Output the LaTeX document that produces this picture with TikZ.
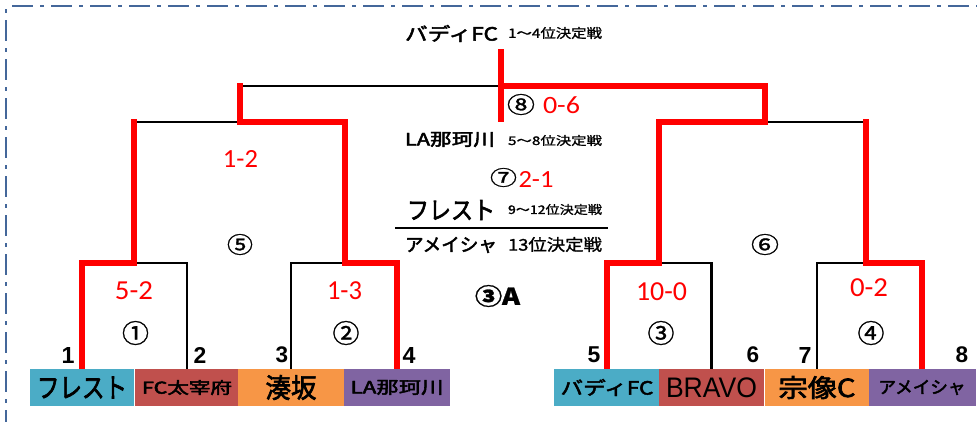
\documentclass[tikz,border=0pt]{standalone}
\usepackage{fontspec}
\usepackage{graphicx}
\newfontfamily\jp{Noto Sans CJK JP}[FakeBold=1.2]
\newfontfamily\jph{Noto Sans CJK JP}[FakeBold=2.5]
\newfontfamily\scorefont{Carlito}
\newfontfamily\arialf{Liberation Sans}
\definecolor{cblue}{HTML}{4BACC6}
\definecolor{cred}{HTML}{C0504D}
\definecolor{corange}{HTML}{F79646}
\definecolor{cpurple}{HTML}{8064A2}
\definecolor{bord}{HTML}{44679A}
\definecolor{win}{HTML}{FF0000}
\newcommand\fb[3]{\resizebox*{#1pt}{#2pt}{#3}}
\newcommand\fh[2]{\resizebox*{!}{#1pt}{#2}}
\newcommand\jb{\jp}
\tikzset{
  lbl/.style={inner sep=0pt, outer sep=0pt, anchor=south},
  team/.style={inner sep=0pt, outer sep=0pt, minimum height=37pt, draw=none},
  lose/.style={line width=2.8pt, black, line join=miter},
  wins/.style={line width=5.6pt, win, line join=miter, line cap=rect},
  frame/.style={line width=2pt, bord, dash pattern=on 21pt off 7pt on 4pt off 7pt},
  score/.style={lbl, text=win},
}
\begin{document}
\begin{tikzpicture}[x=1pt,y=-1pt]
\useasboundingbox (0,0) rectangle (977,421);
% frame
\coordinate (fc) at (6,6);
\coordinate (fr) at (990,6);
\coordinate (fb) at (6,430);
\draw[frame, dash phase=33pt] (fc) -- (fr);
\draw[frame, dash phase=25pt] (fc) -- (fb);

% bracket joints
\coordinate (m1) at (134,263);
\coordinate (m2) at (345,263);
\coordinate (m3) at (659,263);
\coordinate (m4) at (866,263);
\coordinate (m5) at (240,122);
\coordinate (m6) at (765,122);
\coordinate (m8) at (501,86);
\coordinate (champ) at (501,49);
\coordinate (bot8) at (501,122);

% team boxes (positions only here, drawn later on top)
\path
  node[team, minimum width=104pt] (t1) at (82,387.5) {}
  node[team, minimum width=105pt] (t2) at (187,387.5) {}
  node[team, minimum width=106pt] (t3) at (291,387.5) {}
  node[team, minimum width=106pt] (t4) at (397,387.5) {}
  node[team, minimum width=106pt] (t5) at (607,387.5) {}
  node[team, minimum width=105pt] (t6) at (711.5,387.5) {}
  node[team, minimum width=104pt] (t7) at (817,387.5) {}
  node[team, minimum width=107pt] (t8) at (922,387.5) {};

% losing lines
\draw[lose] (t2.north) |- (m1);
\draw[lose] (t3.north) |- (m2);
\draw[lose] (t6.north) |- (m3);
\draw[lose] (t7.north) |- (m4);
\draw[lose] (m1 |- m5) -- (m5);
\draw[lose] (m4 |- m6) -- (m6);
\draw[lose] (m5 |- m8) -- (m8);

% winning lines
\draw[wins] (t1.north) |- (m1) -- (m1 |- m5);
\draw[wins] (t4.north) |- (m2) -- (m2 |- m5) -- (m5) -- (m5 |- m8);
\draw[wins] (t5.north) |- (m3) -- (m3 |- m6) -- (m6) -- (m6 |- m8) -- (m8);
\draw[wins] (t8.north) |- (m4) -- (m4 |- m6);
\draw[wins, line cap=butt] (champ) -- (bot8);

% team boxes with names
\node[team, fill=cblue,   minimum width=104pt] at (t1) {\fb{90}{22}{\jph フレスト}};
\node[team, fill=cred,    minimum width=105pt] at (t2) {\fb{90}{15}{\jph FC太宰府}};
\node[team, fill=corange, minimum width=106pt] at (t3) {\fb{51}{25}{\jph 湊坂}};
\node[team, fill=cpurple, minimum width=106pt] at (t4) {\fb{93}{15}{\jph LA那珂川}};
\node[team, fill=cblue,   minimum width=106pt] at (t5) {\fb{93}{17}{\jph バディFC}};
\node[team, fill=cred,    minimum width=105pt] at (t6) {\fb{91}{20}{\arialf BRAVO}};
\node[team, fill=corange, minimum width=104pt] at (t7) {\fb{77}{23}{\jph 宗像C}};
\node[team, fill=cpurple, minimum width=107pt] at (t8) {\fb{87}{15}{\jph アメイシャ}};

% seed numbers
\node[lbl] (n1) at (68,363) {\fh{16}{\arialf\bfseries 1}};
\node[lbl] (n2) at (200,363) {\fh{16}{\arialf\bfseries 2}};
\node[lbl] (n3) at (282,363) {\fh{16}{\arialf\bfseries 3}};
\node[lbl] (n4) at (409,363) {\fh{16}{\arialf\bfseries 4}};
\node[lbl] (n5) at (594,363) {\fh{16}{\arialf\bfseries 5}};
\node[lbl] (n6) at (753,363) {\fh{16}{\arialf\bfseries 6}};
\node[lbl] (n7) at (805,363) {\fh{16}{\arialf\bfseries 7}};
\node[lbl] (n8) at (962,363) {\fh{16}{\arialf\bfseries 8}};

% match numbers
\node[lbl] (g1) at (135.5,345) {\fb{27}{24}{\jb ①}};
\node[lbl] (g2) at (346,345) {\fb{27}{24}{\jb ②}};
\node[lbl] (g3) at (661,345) {\fb{27}{24}{\jb ③}};
\node[lbl] (g4) at (871,345) {\fb{27}{24}{\jb ④}};
\node[lbl] (g5) at (240,255) {\fb{26}{21}{\jb ⑤}};
\node[lbl] (g6) at (765,255) {\fb{28}{21}{\jb ⑥}};
\node[lbl] (g7) at (503.5,187) {\fb{27}{19}{\jb ⑦}};
\node[lbl] (g8) at (521,115) {\fb{28}{21}{\jb ⑧}};

% scores
\node[score] (s1) at (134,300) {\fb{38}{18}{\scorefont 5-2}};
\node[score] (s2) at (344.5,300) {\fb{35}{18}{\scorefont 1-3}};
\node[score] (s3) at (661.5,301) {\fb{51}{18}{\scorefont 10-0}};
\node[score] (s4) at (869,297) {\fb{38}{18}{\scorefont 0-2}};
\node[score] (s5) at (240.5,167) {\fb{35}{17}{\scorefont 1-2}};
\node[score] (s7) at (536,187) {\fb{35}{16}{\scorefont 2-1}};
\node[score] (s8) at (561.5,114) {\fb{37}{17}{\scorefont 0-6}};

% results
\node[lbl] (r1) at (451.5,42) {\fb{93}{17}{\jph バディFC}};
\node[lbl] (r1t) at (555,39) {\fb{94}{12}{\jb 1～4位決定戦}};
\node[lbl] (r5) at (450,147) {\fb{90}{15}{\jph LA那珂川}};
\node[lbl] (r5t) at (555,146) {\fb{94}{11}{\jb 5～8位決定戦}};
\node[lbl] (r9) at (451,220) {\fb{88}{20}{\jph フレスト}};
\node[lbl] (r9t) at (555,215) {\fb{94}{11}{\jb 9～12位決定戦}};
\coordinate (ul) at (395,228);
\coordinate (ur) at (608,228);
\draw[line width=2.6pt] (ul) -- (ur);
\node[lbl] (r13) at (451,253) {\fb{92}{16}{\jph アメイシャ}};
\node[lbl] (r13t) at (555,252) {\fb{94}{15}{\jb 13位決定戦}};
\node[lbl] (a3) at (497.5,307) {\fb{45}{22}{\jp\bfseries ③A}};
\end{tikzpicture}
\end{document}
